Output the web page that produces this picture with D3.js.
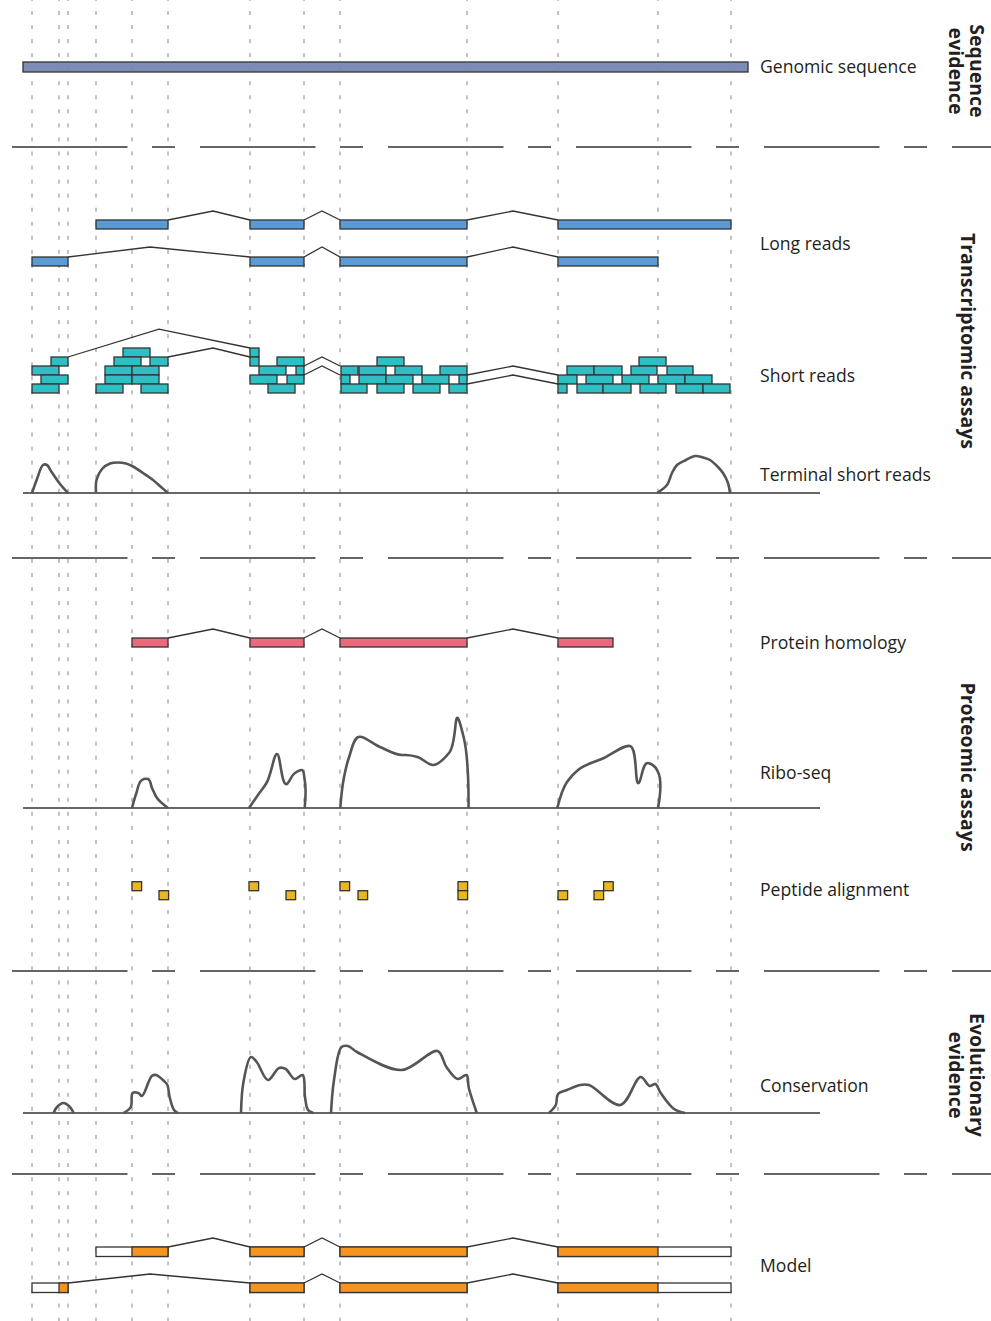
<!DOCTYPE html>
<html>
<head>
<meta charset="utf-8">
<script src="https://cdn.jsdelivr.net/npm/d3@7"></script>
<style>
  body { margin: 0; background: #fff; }
  svg { display: block; }
  text { font-family: "Open Sans", "Noto Sans", sans-serif; fill: #231f20; }
</style>
</head>
<body>
<svg id="chart" width="991" height="1321"></svg>
<script>
// ---- データ（ゲノム上の位置） ----
// 縦の点線（エクソン境界）
const guides = [32, 59, 68, 96, 132, 168, 250, 304, 340, 467, 558, 658, 731];
// ゲノム配列
const genomeSpan = [23, 748];
// ロングリード：エクソンとイントロンの頂点
const longReadExons = [
  [[96, 168], [250, 304], [340, 467], [558, 731]],
  [[32, 68], [250, 304], [340, 467], [558, 658]]
];
const longReadApex = [[213, 322, 513], [150, 322, 513]];
// ショートリード [start, end, row]
const shortReads = [
  [51, 68, 1], [32, 59, 2], [41, 68, 3], [32, 59, 4],
  [123, 150, 0], [114, 141, 1], [150, 168, 1], [105, 132, 2], [132, 159, 2],
  [105, 132, 3], [132, 159, 3], [96, 123, 4], [141, 168, 4],
  [250, 259, 0], [250, 259, 1], [277, 304, 1], [259, 286, 2], [296, 304, 2],
  [250, 277, 3], [287, 304, 3], [268, 295, 4],
  [377, 404, 1], [341, 358, 2], [359, 386, 2], [395, 422, 2], [440, 467, 2],
  [341, 350, 3], [359, 386, 3], [386, 413, 3], [422, 449, 3], [459, 467, 3],
  [341, 367, 4], [377, 404, 4], [413, 440, 4], [449, 467, 4],
  [639, 666, 1], [567, 594, 2], [594, 622, 2], [631, 657, 2], [667, 693, 2],
  [558, 577, 3], [586, 613, 3], [622, 649, 3], [658, 685, 3], [685, 712, 3],
  [558, 567, 4], [577, 603, 4], [603, 631, 4], [640, 666, 4], [676, 703, 4], [703, 730, 4]
];
// ショートリードのスプライス線 [x, row]
const shortJunctions = [
  [[68, 1], [159, -2.1], [250, 0]],
  [[168, 1], [213, 0], [250, 1]],
  [[304, 2], [322, 1], [340, 2]],
  [[304, 3], [322, 2], [340, 3]],
  [[467, 3], [513, 2], [558, 3]],
  [[467, 4], [513, 3], [558, 4]]
];
// 末端ショートリード（シグナル）
const terminalSignal = [
  [[32, 0], [37, 14], [43, 28], [47, 28], [51, 22], [60, 9], [68, 0]],
  [[96, 0], [96.5, 13], [102, 24], [110, 29.5], [118, 30.5], [126, 29.5], [133, 26.5], [143, 20], [153, 13], [161, 6], [168, 0]],
  [[657, 0], [667, 8], [672, 20], [677, 28], [686, 33], [695, 37], [703, 35.5], [710, 33], [718, 26], [723, 20], [728, 10], [730, 0]]
];
// タンパク質ホモロジー
const proteinExons = [[132, 168], [250, 304], [340, 467], [558, 613]];
const proteinApex = [213, 322, 513];
// Ribo-seq
const riboSignal = [
  [[132, 0], [136.4, 15], [142, 28], [144, 29], [148, 29], [152, 20], [157, 10], [168, 0]],
  [[249, 0], [258, 13], [266.5, 25], [277, 54], [286.8, 24], [295, 35], [302, 38], [304.7, 28], [304.7, 0]],
  [[340.3, 0], [343, 25], [348.8, 50], [358.3, 71], [380, 61], [402, 53], [406, 53], [417.6, 51], [433, 43], [449, 55], [457.8, 90], [463.6, 71], [468.5, 0]],
  [[557.3, 0], [567, 26], [578, 38], [604, 50], [630, 62], [638.8, 25], [648, 45], [655, 41], [658, 36], [658, 0]]
];
// ペプチド [start, row]
const peptides = [
  [132, 0], [159, 1], [249, 0], [286, 1], [340, 0], [358, 1],
  [458, 0], [458, 1], [558, 1], [594, 1], [603.6, 0]
];
const peptideLen = 9.6;
// 保存度
const conservationSignal = [
  [[53.6, 0], [57, 6], [63.4, 10], [69, 7], [73.7, 0]],
  [[123.7, 0], [130.8, 6], [132.6, 20], [138.4, 20], [142, 17], [151.8, 37], [156, 38], [164, 32], [167.4, 28], [169.6, 16], [174, 3], [177.7, 0]],
  [[241, 0], [243.3, 30], [250.9, 56], [256.7, 51], [267.9, 33], [279, 45], [285.7, 44], [294.6, 34], [302.7, 38], [305, 16], [308, 3], [313.4, 0]],
  [[331, 0], [334, 33], [341.5, 66], [348, 67], [357, 61], [401.8, 43], [437.5, 62], [446.4, 46], [457.6, 34], [466.5, 38], [468.8, 25], [476.8, 0]],
  [[549, 0], [555.8, 8], [558, 19], [567, 23], [580, 28], [589, 28], [620.5, 8], [640.6, 36], [649.6, 27], [655.4, 29], [660.7, 20], [674, 4], [685, 0]]
];
// モデル：エクソンとCDS
const modelExons = [
  [[96, 168], [250, 304], [340, 467], [558, 731]],
  [[32, 68], [250, 304], [340, 467], [558, 731]]
];
const modelCds = [[132, 658], [59, 658]];
const modelApex = [[213, 322, 513], [150, 322, 513]];
// ラベル
const trackLabels = ["Genomic sequence", "Long reads", "Short reads", "Terminal short reads",
  "Protein homology", "Ribo-seq", "Peptide alignment", "Conservation", "Model"];
const groupLabels = [["Sequence", "evidence"], ["Transcriptomic assays"], ["Proteomic assays"], ["Evolutionary", "evidence"]];

// ---- レイアウト ----
const W = 991, H = 1321;
const labelX = 760;
const labelY = [67, 244, 376, 475, 643, 773, 890, 1086, 1266];
const groupY = [71, 341, 767, 1075];
const separatorY = [147, 558, 971, 1174];
const colors = {
  genome: "#7d8cb6", long: "#5b9bd5", short: "#2ebfc4", protein: "#ea6a7c",
  peptide: "#e8b724", cds: "#f7941e", stroke: "#333"
};

const svg = d3.select("#chart");
const x = d3.scaleLinear().domain([0, W]).range([0, W]);

// 区切り線
svg.append("g").selectAll("line").data(separatorY).join("line")
  .attr("x1", 12).attr("x2", W).attr("y1", d => d).attr("y2", d => d)
  .attr("stroke", "#333").attr("stroke-width", 1.4)
  .attr("stroke-dasharray", "115.5,24.5,23,25");

// ゲノム配列
svg.append("rect")
  .attr("x", x(genomeSpan[0])).attr("width", x(genomeSpan[1]) - x(genomeSpan[0]))
  .attr("y", 62).attr("height", 10)
  .attr("fill", colors.genome).attr("stroke", colors.stroke).attr("stroke-width", 1.3);

// 縦の点線
svg.append("g").selectAll("line").data(guides).join("line")
  .attr("x1", d => x(d)).attr("x2", d => x(d)).attr("y1", 0).attr("y2", H)
  .attr("stroke", "#858585").attr("stroke-width", 1)
  .attr("stroke-dasharray", "4,10.05").attr("stroke-dashoffset", 3.05);

// エクソン＋イントロンを描く
function drawTranscript(g, exons, apex, top, h, fill, lift) {
  const introns = exons.slice(1).map((e, i) => [
    [exons[i][1], top], [apex[i], top - lift], [e[0], top]
  ]);
  g.append("g").selectAll("path").data(introns).join("path")
    .attr("d", d3.line().x(d => x(d[0])).y(d => d[1]))
    .attr("fill", "none").attr("stroke", colors.stroke).attr("stroke-width", 1.3);
  g.append("g").selectAll("rect").data(exons).join("rect")
    .attr("x", d => x(d[0])).attr("width", d => x(d[1]) - x(d[0]))
    .attr("y", top).attr("height", h)
    .attr("fill", fill).attr("stroke", colors.stroke).attr("stroke-width", 1.3);
}

// ロングリード
const longTop = [220, 257];
longReadExons.forEach((ex, i) => drawTranscript(svg, ex, longReadApex[i], longTop[i], 9, colors.long, i ? 10 : 9));

// ショートリード
const rowY = d3.scaleLinear().domain([0, 1]).range([348, 357]);
svg.append("g").selectAll("path").data(shortJunctions).join("path")
  .attr("d", d3.line().x(d => x(d[0])).y(d => rowY(d[1])))
  .attr("fill", "none").attr("stroke", colors.stroke).attr("stroke-width", 1.3);
svg.append("g").selectAll("rect").data(shortReads).join("rect")
  .attr("x", d => x(d[0])).attr("width", d => x(d[1]) - x(d[0]))
  .attr("y", d => rowY(d[2])).attr("height", rowY(1) - rowY(0))
  .attr("fill", colors.short).attr("stroke", colors.stroke).attr("stroke-width", 1.3);

// シグナルトラック
function drawSignal(series, baseline, curve) {
  const y = d3.scaleLinear().domain([0, 100]).range([baseline, baseline - 100]);
  svg.append("line").attr("x1", 23).attr("x2", 820).attr("y1", baseline).attr("y2", baseline)
    .attr("stroke", colors.stroke).attr("stroke-width", 1.3);
  const line = d3.line().x(d => x(d[0])).y(d => y(d[1])).curve(curve);
  svg.append("g").selectAll("path").data(series).join("path")
    .attr("d", line).attr("fill", "none")
    .attr("stroke", "#555").attr("stroke-width", 2.6).attr("stroke-linejoin", "round");
}
drawSignal(terminalSignal, 493, d3.curveCatmullRom.alpha(0.5));
drawTranscript(svg, proteinExons, proteinApex, 638, 9, colors.protein, 9);
drawSignal(riboSignal, 808, d3.curveCatmullRom.alpha(1));

// ペプチド
const pepY = d3.scaleLinear().domain([0, 1]).range([881.7, 890.7]);
svg.append("g").selectAll("rect").data(peptides).join("rect")
  .attr("x", d => x(d[0])).attr("width", x(peptideLen) - x(0))
  .attr("y", d => pepY(d[1])).attr("height", 9)
  .attr("fill", colors.peptide).attr("stroke", colors.stroke).attr("stroke-width", 1.3);

drawSignal(conservationSignal, 1113, d3.curveCatmullRom.alpha(0.5));

// モデル
const modelTop = [1247, 1283];
modelExons.forEach((ex, i) => {
  const g = svg.append("g");
  drawTranscript(g, ex, modelApex[i], modelTop[i], 9.5, "#fff", 9);
  const cds = modelCds[i];
  const parts = ex.map(e => [Math.max(e[0], cds[0]), Math.min(e[1], cds[1])]).filter(p => p[1] > p[0]);
  g.append("g").selectAll("rect").data(parts).join("rect")
    .attr("x", d => x(d[0])).attr("width", d => x(d[1]) - x(d[0]))
    .attr("y", modelTop[i]).attr("height", 9.5)
    .attr("fill", colors.cds).attr("stroke", colors.stroke).attr("stroke-width", 1.3);
});

// トラック名
svg.append("g").selectAll("text").data(trackLabels).join("text")
  .attr("x", labelX).attr("y", (d, i) => labelY[i]).attr("dy", "0.35em")
  .style("font-size", "17.6px").text(d => d);

// グループ名（縦書き）
groupLabels.forEach((lines, i) => {
  const bx = lines.length > 1 ? 970 : 961;
  const t = svg.append("text")
    .attr("transform", `translate(${bx},${groupY[i]}) rotate(90)`)
    .attr("text-anchor", "middle")
    .style("font-size", "19.5px").style("font-weight", "bold");
  lines.forEach((l, j) => t.append("tspan").attr("x", 0).attr("dy", j ? 21 : 0).text(l));
});
</script>
</body>
</html>
